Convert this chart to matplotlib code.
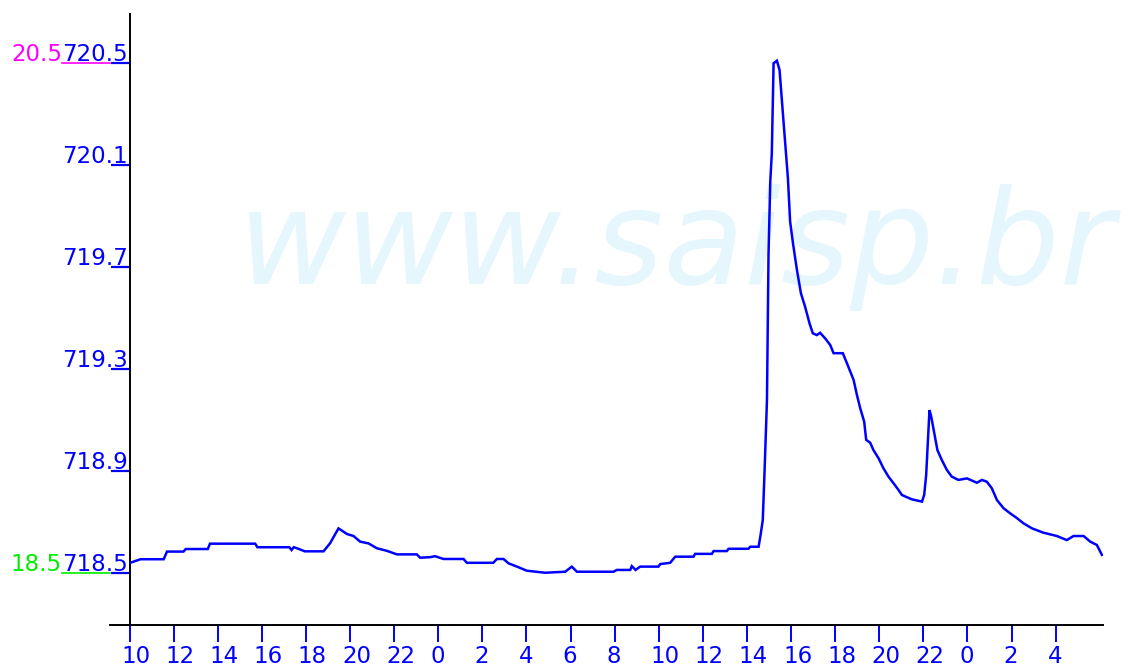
import matplotlib
matplotlib.use("Agg")
import matplotlib.pyplot as plt
import matplotlib.transforms as mtransforms

# ---- data (hours since 10:00 of first day, pressure) ----
hours = [0.0, 0.5, 1.55, 1.7, 2.45, 2.55, 3.55, 3.65, 5.7, 5.8, 7.25, 7.35, 7.45, 7.6,
         7.95, 8.8, 9.1, 9.3, 9.48, 9.86, 10.16, 10.46, 10.84, 11.22, 11.67, 12.13,
         13.03, 13.18, 13.64, 13.85, 14.24, 15.15, 15.3, 16.5, 16.66, 16.96, 17.19,
         17.57, 18.02, 18.85, 19.76, 20.06, 20.29, 21.95, 22.1, 22.71, 22.78, 22.95,
         23.16, 23.99, 24.07, 24.52, 24.75, 25.58, 25.65, 26.41, 26.49, 27.09, 27.17,
         28.07, 28.15, 28.53, 28.62, 28.72, 28.8, 28.91, 28.98, 29.06, 29.13, 29.18,
         29.21, 29.36, 29.48, 29.55, 29.66, 29.74, 29.86, 29.96, 30.09, 30.27, 30.45,
         30.64, 30.84, 30.99, 31.17, 31.32, 31.55, 31.78, 31.93, 32.35, 32.54, 32.69,
         32.84, 32.99, 33.14, 33.32, 33.41, 33.59, 33.74, 33.97, 34.19, 34.42, 34.65,
         34.88, 35.03, 35.26, 35.48, 35.94, 36.04, 36.13, 36.24, 36.28, 36.36, 36.47,
         36.64, 36.84, 37.07, 37.29, 37.59, 37.98, 38.43, 38.66, 38.88, 39.11, 39.34,
         39.64, 39.94, 40.25, 40.54, 40.93, 41.45, 42.06, 42.51, 42.81, 43.27, 43.57,
         43.87, 44.1]
pressure = [718.539, 718.554, 718.554, 718.584, 718.584, 718.594, 718.594, 718.615,
            718.615, 718.601, 718.601, 718.590, 718.601, 718.597, 718.585, 718.585,
            718.617, 718.648, 718.675, 718.653, 718.645, 718.623, 718.616, 718.597,
            718.587, 718.573, 718.573, 718.560, 718.562, 718.566, 718.555, 718.555,
            718.540, 718.540, 718.555, 718.555, 718.538, 718.525, 718.509, 718.501,
            718.505, 718.525, 718.505, 718.505, 718.512, 718.512, 718.527, 718.512,
            718.525, 718.525, 718.535, 718.540, 718.564, 718.564, 718.575, 718.575,
            718.586, 718.586, 718.595, 718.595, 718.603, 718.603, 718.649, 718.708,
            718.897, 719.178, 719.747, 720.035, 720.146, 720.375, 720.499, 720.509,
            720.473, 720.394, 720.270, 720.185, 720.048, 719.878, 719.793, 719.688,
            719.597, 719.544, 719.479, 719.440, 719.433, 719.442, 719.420, 719.394,
            719.362, 719.362, 719.322, 719.289, 719.257, 719.198, 719.146, 719.093,
            719.022, 719.011, 718.982, 718.950, 718.911, 718.878, 718.852, 718.825,
            718.806, 718.797, 718.789, 718.780, 718.806, 718.884, 719.067, 719.139,
            719.113, 719.061, 718.982, 718.943, 718.904, 718.878, 718.865, 718.871,
            718.854, 718.865, 718.858, 718.832, 718.786, 718.754, 718.734, 718.715,
            718.695, 718.675, 718.658, 718.645, 718.629, 718.645, 718.645, 718.623,
            718.610, 718.571]

xtick_pos = [0, 2, 4, 6, 8, 10, 12, 14, 16, 18, 20, 22, 24, 26, 28, 30, 32, 34, 36, 38, 40, 42]
xtick_labels = ["10", "12", "14", "16", "18", "20", "22", "0", "2", "4", "6", "8",
                "10", "12", "14", "16", "18", "20", "22", "0", "2", "4"]
ytick_vals = [718.5, 718.9, 719.3, 719.7, 720.1, 720.5]
ytick_labels = ["718.5", "718.9", "719.3", "719.7", "720.1", "720.5"]
temp_labels = ["20.5", "18.5"]
temp_pos = [720.5, 718.5]
temp_colors = ["#ff00ff", "#00ee00"]
watermark = "www.saisp.br"

BLUE = "#0000ff"
FS = 16.5
W, H = 1131, 667
fig = plt.figure(figsize=(W / 100, H / 100), dpi=100)
ax_l, ax_r, ax_t, ax_b = 129.5, 1103, 14, 625
ax = fig.add_axes([ax_l / W, 1 - ax_b / H, (ax_r - ax_l) / W, (ax_b - ax_t) / H])
axw = ax_r - ax_l

# watermark behind everything
wm = ax.text(238 / W, 1 - 284 / H, watermark, transform=fig.transFigure,
             fontsize=100, style="italic", family="DejaVu Sans", color="#e5f6fd",
             ha="left", va="baseline", zorder=0, clip_on=False)
fig.canvas.draw()
bb = wm.get_window_extent()
wm.set_fontsize(100 * 877 / bb.width)

ax.plot(hours, pressure, color=BLUE, lw=1.8, zorder=3, solid_joinstyle="miter")

ax.set_xlim(0, (ax_r - ax_l) / 22.05)
ax.set_ylim(718.5 - (ax_b - 573) / 255, 718.5 + (573 - ax_t) / 255)

for s in ["top", "right"]:
    ax.spines[s].set_visible(False)
for s in ["left", "bottom"]:
    ax.spines[s].set_color("black")
    ax.spines[s].set_linewidth(1.4)

# extend x-axis line to the left
ax.plot([-19.5 / axw, 0], [0, 0], transform=ax.transAxes, color="black", lw=1.4, clip_on=False)

# x ticks
ax.set_xticks(xtick_pos)
ax.set_xticklabels(xtick_labels)
ax.tick_params(axis="x", direction="out", length=12, width=1.4, color=BLUE,
               labelcolor=BLUE, labelsize=FS, pad=2.5)
off = mtransforms.ScaledTranslation(-8 / 100, 0, fig.dpi_scale_trans)
for lab in ax.get_xticklabels():
    lab.set_horizontalalignment("left")
    lab.set_transform(lab.get_transform() + off)

# y ticks
ax.set_yticks(ytick_vals)
ax.set_yticklabels([""] * len(ytick_vals))
ax.tick_params(axis="y", direction="out", length=14, width=1.6, color=BLUE)
blend = mtransforms.blended_transform_factory(ax.transAxes, ax.transData)
for v, lab in zip(ytick_vals, ytick_labels):
    t = blend + mtransforms.ScaledTranslation(-1.5 / 100, 2 / 100, fig.dpi_scale_trans)
    ax.text(0, v, lab, transform=t, ha="right", va="baseline", color=BLUE,
            fontsize=FS, clip_on=False)

# secondary (temperature) labels on the far left
for lab, v, c in zip(temp_labels, temp_pos, temp_colors):
    t = blend + mtransforms.ScaledTranslation(-67.5 / 100, 2 / 100, fig.dpi_scale_trans)
    ax.text(0, v, lab, transform=t, ha="right", va="baseline", color=c,
            fontsize=FS, clip_on=False)
    ax.plot([-67.5 / axw, -19.5 / axw], [v, v], transform=blend, color=c, lw=1.2,
            clip_on=False)

fig.savefig("out.png", dpi=100)
